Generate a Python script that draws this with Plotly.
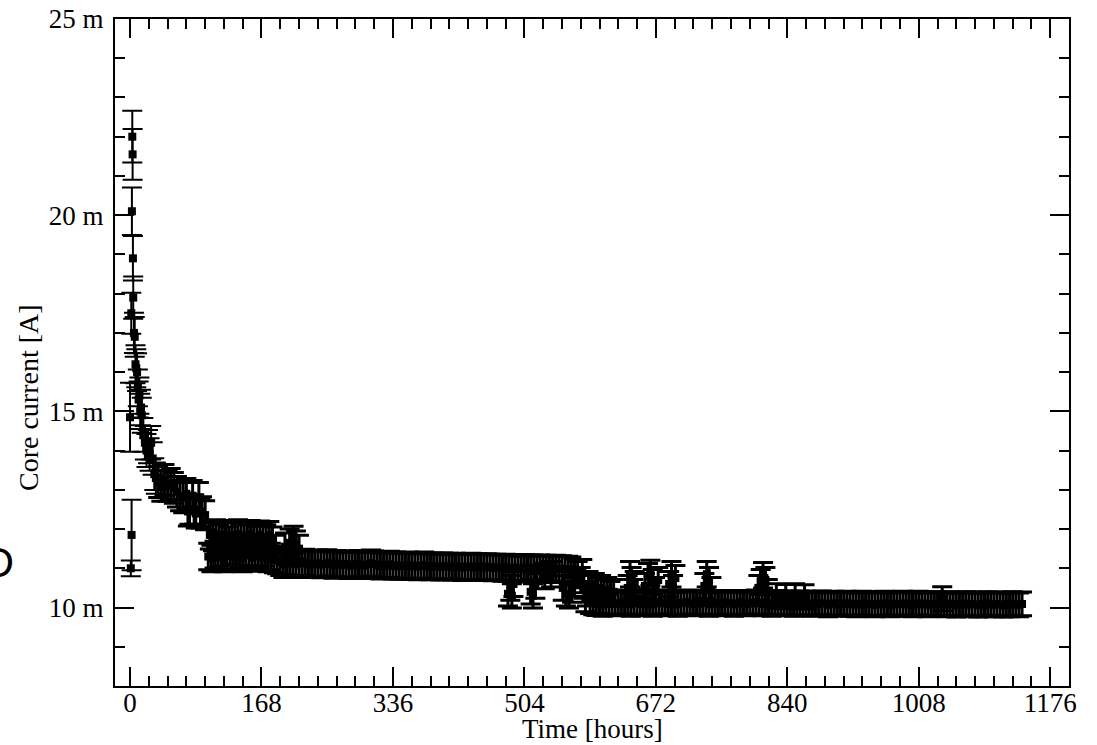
import plotly.graph_objects as go

# ---------------- data (time in hours, core current in mA) ----------------
# first hours of the run
early_t = [1.6, 2.4, 2.9, 3.3, 3.7, 4.1, 5, 6, 7, 8, 9, 10, 11, 12, 13, 14, 15,
           17, 19, 21, 23, 25, 27, 29, 31, 33]
early_i = [17.5, 20.1, 22.0, 21.55, 18.9, 17.9, 17.0, 16.9, 16.2, 16.1, 16.0, 15.6,
           15.3, 15.4, 15.0, 15.1, 14.9, 14.4, 14.2, 14.0, 14.1, 13.9, 14.2, 13.8,
           13.4, 13.3]

# isolated readings at t ~ 0 with their own uncertainties
zero_t = [0, 2, 1]
zero_i = [14.85, 11.85, 11.0]
zero_err = [0.88, 0.9, 0.2]

# regular 4-hour readings, segment by segment
STEP = 4
seg_a_start = 36
seg_a = [13.20, 13.10, 13.25, 13.10, 13.15, 13.05, 12.95, 12.85, 12.80, 12.90,
         12.50, 12.85, 12.40, 12.80, 12.45, 12.35]
seg_b_start = 100
seg_b = [11.30, 11.25, 11.35, 11.28, 11.40, 11.25, 11.32, 11.45, 11.27, 11.30,
         11.38, 11.25, 11.33, 11.42, 11.26, 11.30, 11.36, 11.28, 11.40, 11.25,
         11.30, 11.22]
seg_c_start = 188
seg_c = [11.20, 11.15, 11.10, 11.18, 11.12, 11.15, 11.10, 11.14, 11.12, 11.15, 11.10]
seg_d_start = 232
seg_d = [11.12, 11.10, 11.13, 11.09, 11.11, 11.14, 11.10, 11.08, 11.12, 11.10,
         11.09, 11.11, 11.07, 11.10, 11.08, 11.12, 11.09, 11.07, 11.10, 11.13,
         11.11, 11.08, 11.06, 11.09, 11.07, 11.10, 11.06, 11.08, 11.05, 11.07,
         11.06, 11.08, 11.05, 11.07, 11.04, 11.06, 11.08, 11.05, 11.04, 11.06,
         11.05, 11.03, 11.06, 11.04, 11.05, 11.03, 11.05, 11.04, 11.02, 11.04,
         11.03, 11.05, 11.02, 11.04, 11.03, 11.02, 11.04, 11.03, 11.01, 11.03]
seg_e_start = 472
seg_e = [11.02, 11.00, 11.03, 10.99, 11.01, 11.02, 10.98, 11.00, 11.02, 10.99,
         11.01, 11.00, 10.98, 11.01, 10.99, 11.00, 10.97, 10.99, 11.00, 10.98,
         10.99, 10.97, 10.98, 10.96, 10.90, 10.85, 10.70, 10.55, 10.35, 10.15]
seg_f_start = 592
seg_f = [10.12, 10.10, 10.15, 10.08, 10.12, 10.10, 10.14, 10.09, 10.11, 10.13,
         10.10, 10.12, 10.08, 10.11, 10.14, 10.09, 10.12, 10.10, 10.13, 10.08,
         10.11, 10.14, 10.10, 10.12, 10.09, 10.13, 10.10, 10.08, 10.12, 10.11,
         10.14, 10.10, 10.09, 10.12, 10.10, 10.13, 10.11, 10.08, 10.12, 10.10,
         10.11, 10.09, 10.13, 10.10, 10.12, 10.08, 10.11, 10.13, 10.10, 10.09,
         10.12, 10.10, 10.14, 10.11, 10.09, 10.12, 10.10, 10.08, 10.11, 10.13,
         10.10, 10.12, 10.09, 10.11, 10.08, 10.10, 10.12, 10.09, 10.11, 10.10,
         10.08, 10.11, 10.09, 10.12, 10.10, 10.07, 10.10, 10.11, 10.08, 10.10,
         10.09, 10.11, 10.08, 10.10, 10.07, 10.09, 10.11, 10.08, 10.10, 10.09,
         10.07, 10.10, 10.08, 10.11, 10.09, 10.07, 10.10, 10.08, 10.09, 10.11,
         10.08, 10.10, 10.07, 10.09, 10.11, 10.08, 10.10, 10.07, 10.09, 10.08,
         10.10, 10.08, 10.09, 10.07, 10.10, 10.08, 10.06, 10.09, 10.08, 10.10,
         10.07, 10.09, 10.08, 10.06, 10.09, 10.07, 10.10, 10.08, 10.07, 10.09,
         10.08, 10.06, 10.09, 10.07, 10.10, 10.08, 10.07, 10.09]

# extra readings scattered off the main band (excursions)
extra_t = [74, 82, 90,
           102, 106, 110, 114, 118, 122, 126, 130, 134, 138, 142, 146, 150, 154,
           158, 162, 166, 170, 174, 178, 182,
           186, 198, 204, 209, 212, 216,
           483, 486, 488, 490, 512, 515, 518, 530, 538,
           553, 557, 561, 565, 568,
           578, 582, 586, 590, 594, 598, 602, 606, 610, 614, 618,
           636, 639, 641, 643, 645,
           658, 662, 665, 668, 671, 675,
           689, 692, 694, 697,
           734, 737, 740, 743,
           803, 806, 809, 812, 815,
           826, 838, 850, 862, 1038]
extra_i = [12.45, 12.50, 12.40,
           11.85, 11.80, 11.88, 11.75, 11.85, 11.82, 11.70, 11.86, 11.80, 11.88,
           11.78, 11.84, 11.75, 11.86, 11.80, 11.72, 11.85, 11.80, 11.76, 11.84, 11.70,
           11.50, 11.55, 11.65, 11.72, 11.60, 11.50,
           10.35, 10.50, 10.30, 10.60, 10.40, 10.30, 10.55, 10.80, 10.85,
           10.50, 10.35, 10.30, 10.45, 10.60,
           10.90, 10.20, 10.60, 10.50, 10.55, 10.45, 10.50, 10.40, 10.45, 10.35, 10.40,
           10.50, 10.85, 10.70, 10.40, 10.60,
           10.55, 10.80, 10.88, 10.65, 10.45, 10.70,
           10.60, 10.85, 10.50, 10.75,
           10.55, 10.85, 10.70, 10.45,
           10.50, 10.65, 10.82, 10.70, 10.40,
           10.30, 10.28, 10.30, 10.27, 10.22]

x_ticks = [0, 168, 336, 504, 672, 840, 1008, 1176]
y_ticks = [10, 15, 20, 25]
y_labels = ["10 m", "15 m", "20 m", "25 m"]

# ---------------- build ----------------
dense_t, dense_i = [], []
for start, vals in [(seg_a_start, seg_a), (seg_b_start, seg_b), (seg_c_start, seg_c),
                    (seg_d_start, seg_d), (seg_e_start, seg_e), (seg_f_start, seg_f)]:
    dense_t += [start + STEP * k for k in range(len(vals))]
    dense_i += vals
dense_t += extra_t
dense_i += extra_i

BLACK = "#000000"
fig = go.Figure()
fig.add_trace(go.Scatter(
    x=dense_t, y=dense_i, mode="markers",
    marker=dict(symbol="square", size=8, color=BLACK, line=dict(width=0)),
    error_y=dict(type="percent", value=3, color=BLACK, thickness=3, width=10),
    showlegend=False, hoverinfo="skip"))
fig.add_trace(go.Scatter(
    x=early_t, y=early_i, mode="markers",
    marker=dict(symbol="square", size=8, color=BLACK, line=dict(width=0)),
    error_y=dict(type="percent", value=3, color=BLACK, thickness=2, width=10),
    showlegend=False, hoverinfo="skip"))
fig.add_trace(go.Scatter(
    x=zero_t, y=zero_i, mode="markers",
    marker=dict(symbol="square", size=8, color=BLACK, line=dict(width=0)),
    error_y=dict(type="data", array=zero_err, color=BLACK, thickness=2, width=10),
    showlegend=False, hoverinfo="skip"))

font_serif = "Liberation Serif, Times New Roman, serif"
axis_common = dict(
    showline=True, linewidth=2, linecolor=BLACK, mirror="ticks",
    ticks="inside", ticklen=19, tickwidth=2, tickcolor=BLACK,
    showgrid=False, zeroline=False, automargin=False,
    tickfont=dict(family=font_serif, size=27, color=BLACK),
)
fig.update_layout(
    template="none",
    width=1097, height=745,
    margin=dict(l=115, r=28, t=19, b=59, autoexpand=False),
    paper_bgcolor="white", plot_bgcolor="white",
    xaxis=dict(
        range=[-19.2, 1200], tickvals=x_ticks,
        minor=dict(dtick=24, tick0=0, ticks="inside", ticklen=10, tickwidth=2,
                   tickcolor=BLACK, showgrid=False),
        ticklabelstandoff=-8,
        **axis_common),
    yaxis=dict(
        range=[8, 25], tickvals=y_ticks, ticktext=y_labels,
        minor=dict(dtick=1, tick0=0, ticks="inside", ticklen=10, tickwidth=2,
                   tickcolor=BLACK, showgrid=False),
        ticklabelstandoff=4,
        **axis_common),
    annotations=[
        dict(text="Time [hours]", xref="paper", yref="paper", x=0.5, y=-0.0645,
             xanchor="center", yanchor="middle", showarrow=False,
             font=dict(family=font_serif, size=27, color=BLACK)),
        dict(text="Core current [A]", xref="paper", yref="paper", x=-0.09, y=0.432,
             xanchor="center", yanchor="middle", textangle=-90, showarrow=False,
             font=dict(family=font_serif, size=28, color=BLACK)),
        dict(text="D", xref="paper", yref="paper", x=-0.1038, y=0.186,
             xanchor="right", yanchor="middle", showarrow=False,
             font=dict(family="Liberation Sans, Arial, sans-serif",
                       size=43, color=BLACK)),
    ],
)

fig.write_html("out.html")
